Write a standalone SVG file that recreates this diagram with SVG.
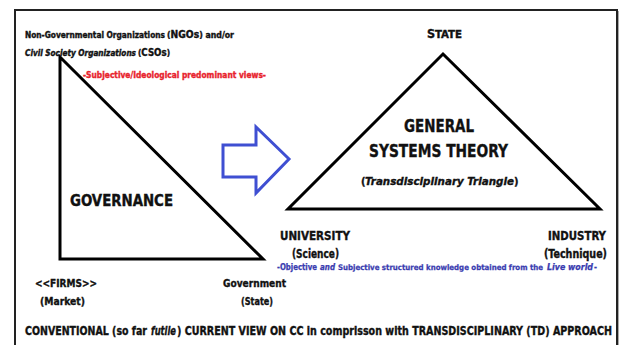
<svg xmlns="http://www.w3.org/2000/svg" width="622" height="345" viewBox="0 0 622 345">
<style>
text{font-family:"DejaVu Sans Condensed","DejaVu Sans","Liberation Sans Narrow",sans-serif;font-weight:bold;fill:#111;stroke:#111;stroke-width:0.35;}
.it{font-style:italic;}
.red{fill:#e8232d;stroke:#e8232d;}
.blue{fill:#3a3cb0;stroke:#3a3cb0;stroke-width:0.25;}
.tri{fill:none;stroke:#000;stroke-width:3;stroke-linejoin:miter;}
</style>
<rect width="622" height="345" fill="#fff"/>
<path d="M15 345 V10 H617 V345" fill="none" stroke="#222" stroke-width="2"/>
<path d="M618.5 11 V345" fill="none" stroke="#aaa" stroke-width="1"/>

<g id="left-triangle">
<path class="tri" d="M60 57 V259 H263 Z"/>
<text x="70" y="206" font-size="15" textLength="103" lengthAdjust="spacingAndGlyphs">GOVERNANCE</text>
</g>

<g id="ngo">
<text transform="translate(25,38) scale(0.93,1)" x="0" y="0" font-size="8.5" textLength="150.5" lengthAdjust="spacingAndGlyphs">Non-Governmental Organizations</text>
<text x="167" y="38" font-size="8.5" textLength="67" lengthAdjust="spacingAndGlyphs">(<tspan font-size="10">NGOs</tspan>) and/or</text>
<text class="it" x="25" y="56" font-size="8.2" textLength="111" lengthAdjust="spacingAndGlyphs">Civil Society Organizations</text>
<text x="138" y="56" font-size="8.5" textLength="32" lengthAdjust="spacingAndGlyphs">(<tspan font-size="10">CSOs</tspan>)</text>
<text class="red" x="83" y="78" font-size="8.5" textLength="183" lengthAdjust="spacingAndGlyphs">-Subjective/Ideological predominant views-</text>
</g>

<g id="firms">
<text x="35" y="287" font-size="11" textLength="62" lengthAdjust="spacingAndGlyphs">&lt;&lt;FIRMS&gt;&gt;</text>
<text x="40" y="305" font-size="11" textLength="45" lengthAdjust="spacingAndGlyphs">(Market)</text>
</g>

<g id="government">
<text x="223" y="287" font-size="11" textLength="63" lengthAdjust="spacingAndGlyphs">Government</text>
<text x="241" y="305" font-size="11" textLength="32" lengthAdjust="spacingAndGlyphs">(State)</text>
</g>

<g id="connectors">
<path d="M223 145 H256 V127 L289 159 L256 193 V177 H223 Z" fill="#fff" stroke="#3f4fd2" stroke-width="3" stroke-linejoin="miter"/>
</g>

<g id="right-triangle">
<path class="tri" d="M443 54 L600 209 H288 Z"/>
<text x="439" y="132" font-size="18" text-anchor="middle" textLength="70" lengthAdjust="spacingAndGlyphs">GENERAL</text>
<text x="369" y="157" font-size="18" textLength="139" lengthAdjust="spacingAndGlyphs">SYSTEMS THEORY</text>
<text x="361" y="185" font-size="11">(</text>
<text class="it" x="365" y="185" font-size="11" textLength="149" lengthAdjust="spacingAndGlyphs">Transdisciplinary Triangle</text>
<text x="514" y="185" font-size="11">)</text>
</g>

<g id="state">
<text x="427" y="38" font-size="12.5">S</text>
<text x="435" y="38" font-size="10" textLength="27" lengthAdjust="spacingAndGlyphs">TATE</text>
</g>

<g id="university">
<text x="280" y="240" font-size="11.5" textLength="70" lengthAdjust="spacingAndGlyphs">UNIVERSITY</text>
<text x="292" y="258" font-size="11.5" textLength="47" lengthAdjust="spacingAndGlyphs">(Science)</text>
</g>

<g id="industry">
<text x="548" y="240" font-size="11.5" textLength="58" lengthAdjust="spacingAndGlyphs">INDUSTRY</text>
<text x="544" y="258" font-size="11.5" textLength="63" lengthAdjust="spacingAndGlyphs">(Technique)</text>
</g>

<g id="knowledge">
<text class="blue" x="277" y="270" font-size="8" textLength="40" lengthAdjust="spacingAndGlyphs">-Objective</text>
<text class="blue it" x="320" y="270" font-size="8" textLength="15" lengthAdjust="spacingAndGlyphs">and</text>
<text class="blue" x="338" y="270" font-size="7.7" textLength="205" lengthAdjust="spacingAndGlyphs">Subjective structured knowledge obtained from the</text>
<text class="blue it" x="547" y="270" font-size="8" textLength="46" lengthAdjust="spacingAndGlyphs">Live world</text>
<text class="blue" x="594" y="270" font-size="8">-</text>
</g>

<g id="caption">
<text transform="translate(25,335) scale(0.875,1)" x="0" y="0" font-size="12" textLength="139.4" lengthAdjust="spacingAndGlyphs">CONVENTIONAL (so far</text>
<text class="it" transform="translate(151,335) scale(0.774,1)" x="0" y="0" font-size="12" textLength="32.3" lengthAdjust="spacingAndGlyphs">futile</text>
<text transform="translate(177,335) scale(0.884,1)" x="0" y="0" font-size="12" textLength="492" lengthAdjust="spacingAndGlyphs">) CURRENT VIEW ON CC in comprisson with TRANSDISCIPLINARY (TD) APPROACH</text>
</g>
</svg>
